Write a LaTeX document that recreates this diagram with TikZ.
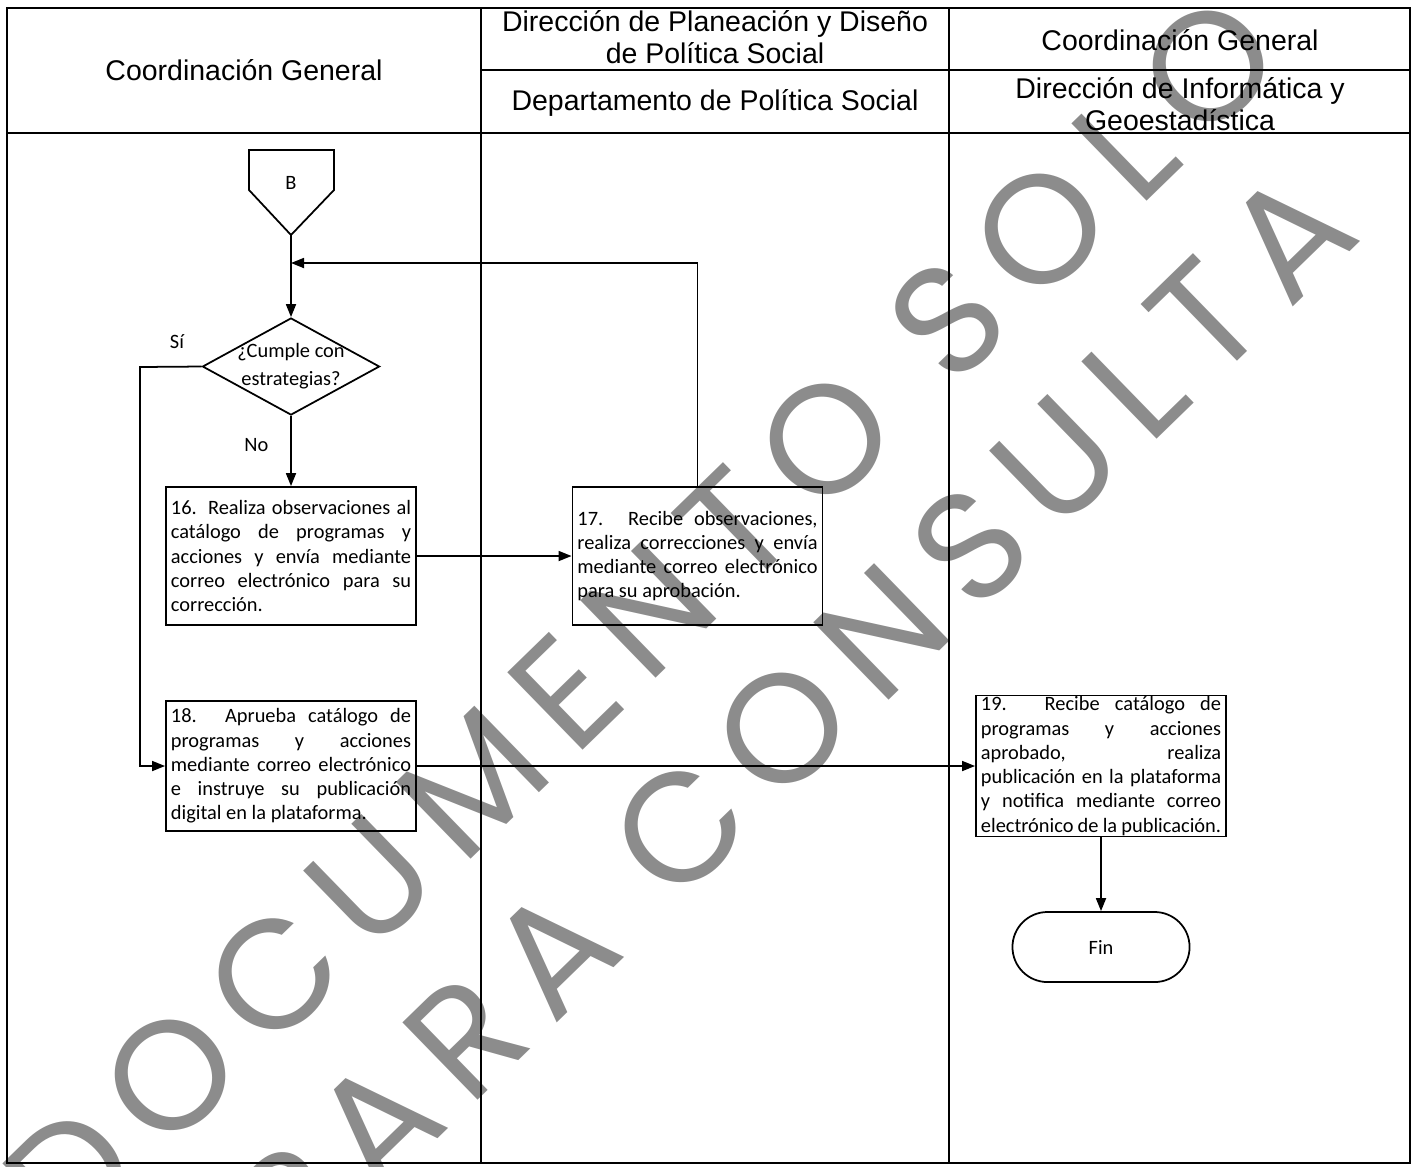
\documentclass[tikz,border=0pt]{standalone}
\usepackage{fontspec}
\setmainfont{Carlito}
\newfontfamily\hdrfont{Liberation Sans}
\newfontfamily\wmfont{Poppins}[LetterSpace=15]
\usetikzlibrary{shapes.geometric,arrows.meta}

\begin{document}
\begin{tikzpicture}
    [x=0.01cm,y=-0.01cm,line width=0.5pt,
     every node/.style={font=\fontsize{5.8}{6.9}\selectfont},
     hdr/.style={font=\hdrfont\fontsize{8.1}{8.9}\selectfont,align=center},
     procbox/.style={draw,rectangle,text width=2.4cm,align=justify,inner xsep=0.05cm,inner ysep=0pt,minimum width=2.5cm},
     decision/.style={draw,diamond,minimum width=1.77cm,minimum height=0.97cm,inner sep=0pt},
     endbox/.style={draw,rectangle,rounded corners=0.35cm,minimum width=1.77cm,minimum height=0.7cm},
     arr/.style={-{Triangle[length=0.13cm,width=0.1cm]}},
     wmark/.style={rotate=44.2,text=black,opacity=0.45,inner sep=0pt,font=\wmfont\fontsize{44}{44}\selectfont}]
    \useasboundingbox (0,0) rectangle (1416,1166);
    % table
    \draw (7,8) rectangle (1410,1163);
    \draw (481,8) -- (481,1163) (949,8) -- (949,1163);
    \draw (7,133) -- (1410,133) (481,70) -- (1410,70);
    \node[hdr] (hcg) at (244,70) {Coordinación General};
    \node[hdr] (hdp) at (715,37) {Dirección de Planeación y Diseño\\de Política Social};
    \node[hdr] (hps) at (715,103) {Departamento de Política Social};
    \node[hdr] (hcg2) at (1180,40) {Coordinación General};
    \node[hdr] (hdi) at (1180,104) {Dirección de Informática y\\Geoestadística};
    % connector B
    \draw (249,150) -- (334,150) -- (334,190) -- (291,235) -- (249,190) -- cycle;
    \node (bconn) at (291,183) {B};
    \coordinate (btip) at (291,235);
    \coordinate (loopin) at (291,263);
    \coordinate (sibend) at (140,367);
    \node[decision,label={[align=center,font=\fontsize{5.8}{8}\selectfont]center:¿Cumple con\\estrategias?}] (dec) at (291,366.5) {};
    \node[procbox,minimum height=1.38cm] (p16) at (291,556) {16. Realiza observaciones al\linebreak catálogo de programas y\linebreak acciones y envía mediante\linebreak correo electrónico para su\linebreak corrección.};
    \node[procbox,minimum height=1.38cm] (p17) at (697.5,556) {17. Recibe observaciones,\linebreak realiza correcciones y envía\linebreak mediante correo electrónico\linebreak para su aprobación.};
    \node[procbox,minimum height=1.3cm] (p18) at (291,766) {18. Aprueba catálogo de\linebreak programas y acciones\linebreak mediante correo electrónico\linebreak e instruye su publicación\linebreak digital en la plataforma.};
    \node[procbox,minimum height=1.41cm] (p19) at (1101,766) {19. Recibe catálogo de\linebreak programas y acciones\linebreak aprobado, realiza\linebreak publicación en la plataforma\linebreak y notifica mediante correo\linebreak electrónico de la publicación.};
    \node[endbox] (fin) at (1101,947) {Fin};
    \foreach \from/\to in {btip/dec.north, p16.east/p17.west, p18.east/p19.west, p19.south/fin.north}
    \draw[arr] (\from) -- (\to);
    \draw[arr] (dec.south) -- node[pos=0.42,left=0.1cm] (no) {No} (p16.north);
    \draw[arr] (p17.north) |- (loopin);
    \draw[arr] (dec.west) -- node[pos=0.4,above=0.05cm] (si) {Sí} (sibend) |- (p18.west);
    % watermark
    \node[wmark] (wmA) at (642,617) {DOCUMENTO SOLO};
    \node[wmark] (wmB) at (793,718) {PARA CONSULTA};
  \end{tikzpicture}
\end{document}
